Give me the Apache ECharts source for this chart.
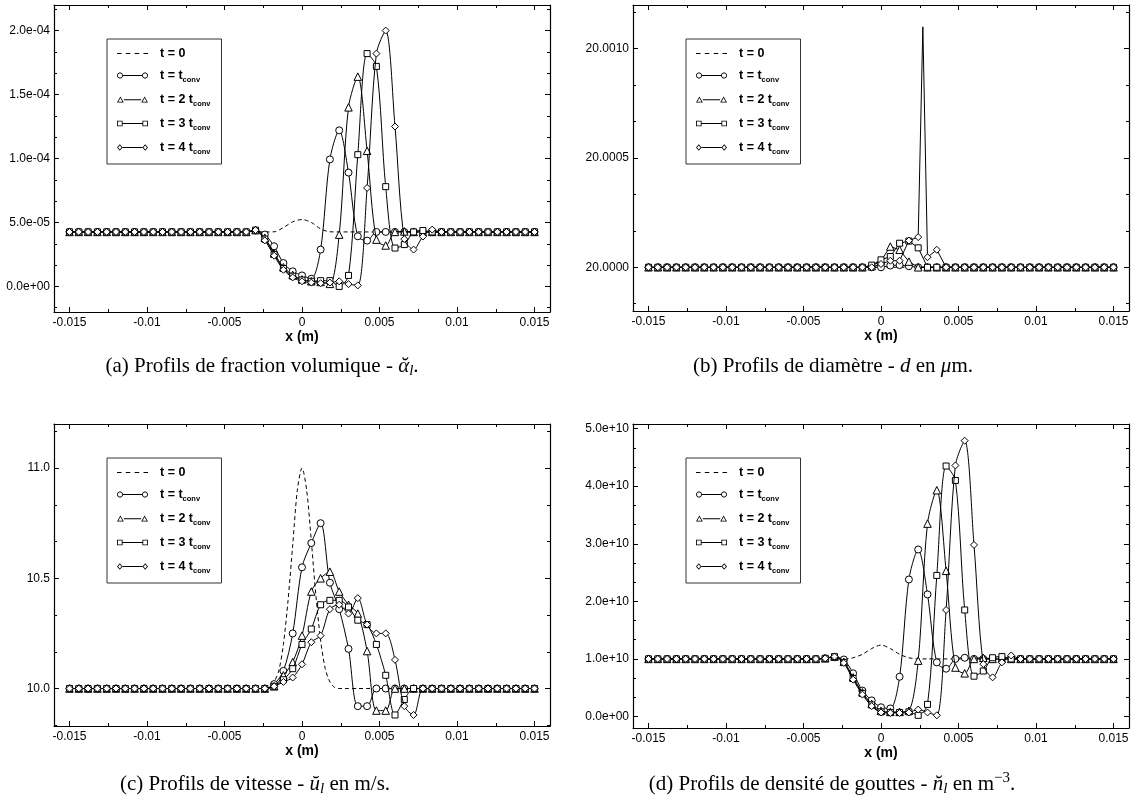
<!DOCTYPE html>
<html><head><meta charset="utf-8">
<script src="https://cdn.jsdelivr.net/npm/echarts@6/dist/echarts.min.js"></script>
<style>html,body{margin:0;padding:0;background:#fff}#c{width:1136px;height:810px}</style>
</head><body><div id="c"></div>
<script>
// ---------- data ----------
const xNodes = [-0.015,-0.0144,-0.0138,-0.0132,-0.0126,-0.012,-0.0114,-0.0108,-0.0102,-0.0096,
  -0.009,-0.0084,-0.0078,-0.0072,-0.0066,-0.006,-0.0054,-0.0048,-0.0042,-0.0036,
  -0.003,-0.0024,-0.0018,-0.0012,-0.0006,0,0.0006,0.0012,0.0018,0.0024,
  0.003,0.0036,0.0042,0.0048,0.0054,0.006,0.0066,0.0072,0.0078,0.0084,
  0.009,0.0096,0.0102,0.0108,0.0114,0.012,0.0126,0.0132,0.0138,0.0144,0.015];

const seriesNames = ['t = 0','t = tconv','t = 2 tconv','t = 3 tconv','t = 4 tconv'];

// (a) volume fraction, units of 1e-5
const unitA = 1e-5;
const alpha0 = [4.26,4.26,4.26,4.26,4.26, 4.26,4.26,4.26,4.26,4.26, 4.26,4.26,4.26,4.26,4.26, 4.26,4.26,4.26,4.26,4.26,
  4.26,4.26,4.27,4.6,5.05, 5.23,5.0,4.5,4.27,4.26, 4.26,4.26,4.26,4.26,4.26, 4.26,4.26,4.26,4.26,4.26,
  4.26,4.26,4.26,4.26,4.26, 4.26,4.26,4.26,4.26,4.26, 4.26];
const alpha1 = [4.26,4.26,4.26,4.26,4.26, 4.26,4.26,4.26,4.26,4.26, 4.26,4.26,4.26,4.26,4.26, 4.26,4.26,4.26,4.26,4.26,
  4.37,4.05,3.14,1.83,1.18, 0.86,0.6,2.88,9.93,12.2, 8.9,3.92,3.58,4.26,4.26, 4.26,4.26,4.26,4.26,4.26,
  4.26,4.26,4.26,4.26,4.26, 4.26,4.26,4.26,4.26,4.26, 4.26];
const alpha2 = [4.26,4.26,4.26,4.26,4.26, 4.26,4.26,4.26,4.26,4.26, 4.26,4.26,4.26,4.26,4.26, 4.26,4.26,4.26,4.26,4.26,
  4.4,3.8,2.6,1.5,0.9, 0.55,0.4,0.35,0.2,4.05, 14.0,16.4,10.6,3.66,3.2, 4.26,4.3,4.26,4.26,4.26,
  4.26,4.26,4.26,4.26,4.26, 4.26,4.26,4.26,4.26,4.26, 4.26];
const alpha3 = [4.26,4.26,4.26,4.26,4.26, 4.26,4.26,4.26,4.26,4.26, 4.26,4.26,4.26,4.26,4.26, 4.26,4.26,4.26,4.26,4.26,
  4.4,3.7,2.5,1.4,0.8, 0.5,0.4,0.45,0.45,0.0, 0.86,10.3,18.2,17.2,7.8, 3.0,3.27,4.26,4.37,4.26,
  4.26,4.26,4.26,4.26,4.26, 4.26,4.26,4.26,4.26,4.26, 4.26];
const alpha4 = [4.26,4.26,4.26,4.26,4.26, 4.26,4.26,4.26,4.26,4.26, 4.26,4.26,4.26,4.26,4.26, 4.26,4.26,4.26,4.26,4.26,
  4.4,3.6,2.4,1.3,0.7, 0.4,0.3,0.25,0.3,0.4, 0.18,0.08,7.7,18.2,20.0, 12.5,3.7,2.88,3.9,4.44,
  4.26,4.26,4.26,4.26,4.26, 4.26,4.26,4.26,4.26,4.26, 4.26];

// (b) diameter, micrometres
const diam0 = [20,20,20,20,20, 20,20,20,20,20, 20,20,20,20,20, 20,20,20,20,20,
  20,20,20,20,20, 20,20,20,20,20, 20,20,20,20,20, 20,20,20,20,20,
  20,20,20,20,20, 20,20,20,20,20, 20];
const diam1 = [20,20,20,20,20, 20,20,20,20,20, 20,20,20,20,20, 20,20,20,20,20,
  20,20,20,20,20, 20,20.000008,20.00001,20.000005,20, 20,20,20,20,20, 20,20,20,20,20,
  20,20,20,20,20, 20,20,20,20,20, 20];
const diam2 = [20,20,20,20,20, 20,20,20,20,20, 20,20,20,20,20, 20,20,20,20,20,
  20,20,20,20,20.000005, 20.00003,20.000095,20.00008,20.000026,20, 20,20,20,20,20, 20,20,20,20,20,
  20,20,20,20,20, 20,20,20,20,20, 20];
const diam3 = [20,20,20,20,20, 20,20,20,20,20, 20,20,20,20,20, 20,20,20,20,20,
  20,20,20,20,20.00001, 20.000034,20.000049,20.00011,20.00012,20.000089, 20,20,20,20,20, 20,20,20,20,20,
  20,20,20,20,20, 20,20,20,20,20, 20];
const diam4 = [20,20,20,20,20, 20,20,20,20,20, 20,20,20,20,20, 20,20,20,20,20,
  20,20,20,20,20, 20.000015,20.00003,20.00003,20.000122,20.000138, 20.000046,20.00008,20,20,20, 20,20,20,20,20,
  20,20,20,20,20, 20,20,20,20,20, 20];
const diam4SpikeX = 0.0027, diam4SpikeV = 20.0011;

// (c) velocity, m/s
const xDashC = [-0.015,-0.0144,-0.0138,-0.0132,-0.0126,-0.012,-0.0114,-0.0108,-0.0102,-0.0096,
  -0.009,-0.0084,-0.0078,-0.0072,-0.0066,-0.006,-0.0054,-0.0048,-0.0042,-0.0036,-0.003,-0.0024,
  -0.0021,-0.0018,-0.0015,-0.0012,-0.0009,-0.0006,-0.0003,0,0.0003,0.0006,0.0009,0.0012,0.0015,0.0018,0.0021,
  0.0024,0.003,0.0036,0.0042,0.0048,0.0054,0.006,0.0066,0.0072,0.0078,0.0084,
  0.009,0.0096,0.0102,0.0108,0.0114,0.012,0.0126,0.0132,0.0138,0.0144,0.015];
const vel0 = [10,10,10,10,10,10,10,10,10,10, 10,10,10,10,10,10,10,10,10,10,10,10,
  10.005,10.03,10.08,10.2,10.4,10.65,10.9,11.0,10.9,10.67,10.42,10.22,10.09,10.03,10.005,
  10,10,10,10,10,10,10,10,10,10,10, 10,10,10,10,10,10,10,10,10,10,10];
const vel1 = [10,10,10,10,10, 10,10,10,10,10, 10,10,10,10,10, 10,10,10,10,10,
  10,10,10.02,10.08,10.25, 10.55,10.66,10.75,10.48,10.36, 10.18,9.92,9.92,10,10, 10,10,10,10,10,
  10,10,10,10,10, 10,10,10,10,10, 10];
const vel2 = [10,10,10,10,10, 10,10,10,10,10, 10,10,10,10,10, 10,10,10,10,10,
  10,10,10.01,10.06,10.12, 10.24,10.44,10.5,10.53,10.44, 10.38,10.34,10.17,9.9,9.9, 10,10,10,10,10,
  10,10,10,10,10, 10,10,10,10,10, 10];
const vel3 = [10,10,10,10,10, 10,10,10,10,10, 10,10,10,10,10, 10,10,10,10,10,
  10,10,10.01,10.04,10.09, 10.2,10.27,10.38,10.4,10.4, 10.37,10.31,10.29,10.2,10.06, 9.88,9.95,10,10,10,
  10,10,10,10,10, 10,10,10,10,10, 10];
const vel4 = [10,10,10,10,10, 10,10,10,10,10, 10,10,10,10,10, 10,10,10,10,10,
  10,10,10.01,10.03,10.05, 10.11,10.21,10.24,10.36,10.38, 10.34,10.41,10.29,10.25,10.25, 10.13,9.92,9.88,10,10,
  10,10,10,10,10, 10,10,10,10,10, 10];

// (d) droplet number density, units of 1e10 m^-3
const unitD = 1e10;
const dens0 = [1,1,1,1,1, 1,1,1,1,1, 1,1,1,1,1, 1,1,1,1,1,
  1,1,1.02,1.08,1.18, 1.24,1.18,1.08,1.02,1, 1,1,1,1,1, 1,1,1,1,1,
  1,1,1,1,1, 1,1,1,1,1, 1];
const dens1 = [1,1,1,1,1, 1,1,1,1,1, 1,1,1,1,1, 1,1,1,1,1.01,
  1.03,0.99,0.75,0.45,0.28, 0.16,0.14,0.69,2.38,2.9, 2.12,0.94,0.83,1.0,1.02, 1,1,1,1,1,
  1,1,1,1,1, 1,1,1,1,1, 1];
const dens2 = [1,1,1,1,1, 1,1,1,1,1, 1,1,1,1,1, 1,1,1,1,1.01,
  1.04,0.95,0.68,0.42,0.22, 0.1,0.08,0.08,0.1,0.97, 3.35,3.93,2.53,0.85,0.75, 1.0,1.02,1,1,1,
  1,1,1,1,1, 1,1,1,1,1, 1];
const dens3 = [1,1,1,1,1, 1,1,1,1,1, 1,1,1,1,1, 1,1,1,1,1.01,
  1.04,0.94,0.66,0.4,0.2, 0.08,0.07,0.07,0.08,0.02, 0.21,2.45,4.35,4.1,1.85, 0.7,0.79,1.02,1.04,1,
  1,1,1,1,1, 1,1,1,1,1, 1];
const dens4 = [1,1,1,1,1, 1,1,1,1,1, 1,1,1,1,1, 1,1,1,1,1.01,
  1.04,0.93,0.64,0.38,0.18, 0.07,0.06,0.06,0.07,0.12, 0.07,0.02,1.85,4.36,4.79, 2.98,0.91,0.68,0.94,1.06,
  1,1,1,1,1, 1,1,1,1,1, 1];

// ticks
const xTicks = [-0.015,-0.01,-0.005,0,0.005,0.01,0.015];
const xLabels = ['-0.015','-0.01','-0.005','0','0.005','0.01','0.015'];
const xMinorTicks = [-0.0125,-0.0075,-0.0025,0.0025,0.0075,0.0125];
const yTicksA = [0,5e-5,1e-4,1.5e-4,2e-4];
const yLabelsA = ['0.0e+00','5.0e-05','1.0e-04','1.5e-04','2.0e-04'];
const yTicksB = [20.0,20.0005,20.001];
const yLabelsB = ['20.0000','20.0005','20.0010'];
const yTicksC = [10.0,10.5,11.0];
const yLabelsC = ['10.0','10.5','11.0'];
const yTicksD = [0,1e10,2e10,3e10,4e10,5e10];
const yLabelsD = ['0.0e+00','1.0e+10','2.0e+10','3.0e+10','4.0e+10','5.0e+10'];

// ---------- build ----------
const FONT = 'Liberation Sans, Arial, sans-serif';
const SERIF = 'Liberation Serif, Times New Roman, serif';

function toPairs(xs, arr, unit) { return xs.map((x, i) => [x, arr[i] * unit]); }
const diam4Data = toPairs(xNodes, diam4, 1);
diam4Data.splice(30, 0, {value: [diam4SpikeX, diam4SpikeV], symbol: 'none'});

const panels = [
  {grid:{left:54, top:5, width:496, height:307}, yMin:-2e-5, yMax:2.2e-4, ticks:yTicksA, labels:yLabelsA, smooth:0.3,
   data:[toPairs(xNodes,alpha0,unitA), toPairs(xNodes,alpha1,unitA), toPairs(xNodes,alpha2,unitA), toPairs(xNodes,alpha3,unitA), toPairs(xNodes,alpha4,unitA)]},
  {grid:{left:633, top:5, width:496, height:306}, yMin:19.9998, yMax:20.0012, ticks:yTicksB, labels:yLabelsB, smooth:false,
   data:[toPairs(xNodes,diam0,1), toPairs(xNodes,diam1,1), toPairs(xNodes,diam2,1), toPairs(xNodes,diam3,1), diam4Data]},
  {grid:{left:54, top:424, width:496, height:302}, yMin:9.83, yMax:11.2, ticks:yTicksC, labels:yLabelsC, smooth:0.3,
   data:[toPairs(xDashC,vel0,1), toPairs(xNodes,vel1,1), toPairs(xNodes,vel2,1), toPairs(xNodes,vel3,1), toPairs(xNodes,vel4,1)]},
  {grid:{left:633, top:424, width:496, height:304}, yMin:-2e9, yMax:5.08e10, ticks:yTicksD, labels:yLabelsD, smooth:0.3,
   data:[toPairs(xNodes,dens0,unitD), toPairs(xNodes,dens1,unitD), toPairs(xNodes,dens2,unitD), toPairs(xNodes,dens3,unitD), toPairs(xNodes,dens4,unitD)]}
];

function minorOf(ticks, lo, hi) {
  const step = (ticks[1] - ticks[0]) / 3, out = [];
  for (let j = -6; j <= ticks.length * 3 + 6; j++) {
    if (j % 3 === 0) continue;
    const v = ticks[0] + j * step;
    if (v > lo && v < hi) out.push(v);
  }
  return out;
}
function lookup(ticks, labels) {
  return function (v) {
    const tol = Math.abs(ticks[1] - ticks[0]) * 1e-3;
    for (let i = 0; i < ticks.length; i++) if (Math.abs(v - ticks[i]) < tol) return labels[i];
    return '';
  };
}

const lineBlack = {color:'#000', width:1.2};
const tickStyle = {color:'#000', width:1};
const xAxis = [], yAxis = [], grid = [], series = [], legend = [];

function polyStr(pts) { return 'M' + pts.map(p => p[0].toFixed(3) + ' ' + p[1].toFixed(3)).join('L') + 'Z'; }
function ring(outer, centre, f) {
  const inner = outer.map(p => [centre[0] + (p[0] - centre[0]) * f, centre[1] + (p[1] - centre[1]) * f]).reverse();
  return polyStr(outer) + polyStr(inner);
}
function shapeAt(kind, cx) {
  const cy = 3.5;
  if (kind === 'circle') {
    const o = []; for (let i = 0; i < 24; i++) { const a = i / 24 * Math.PI * 2; o.push([cx + 3 * Math.cos(a), cy + 3 * Math.sin(a)]); }
    return ring(o, [cx, cy], 0.72);
  }
  if (kind === 'triangle') return ring([[cx, cy - 3.2], [cx + 3.4, cy + 2.7], [cx - 3.4, cy + 2.7]], [cx, cy + 0.7], 0.6);
  if (kind === 'rect') return ring([[cx - 2.8, cy - 2.8], [cx + 2.8, cy - 2.8], [cx + 2.8, cy + 2.8], [cx - 2.8, cy + 2.8]], [cx, cy], 0.7);
  return ring([[cx, cy - 3.3], [cx + 2.8, cy], [cx, cy + 3.3], [cx - 2.8, cy]], [cx, cy], 0.62);
}
function bar(x1, x2) { return polyStr([[x1, 3.1], [x2, 3.1], [x2, 3.9], [x1, 3.9]]); }
const halfW = {circle:3, triangle:3.4, rect:2.8, diamond:2.8};
function iconFor(kind) {
  if (kind === 'dash') return 'path://' + bar(0, 4.5) + bar(8.8, 13.3) + bar(17.7, 22.2) + bar(26.5, 31);
  const h = halfW[kind];
  return 'path://' + shapeAt(kind, h) + shapeAt(kind, 31 - h) + bar(2 * h, 31 - 2 * h);
}
const iconKinds = ['dash','circle','triangle','rect','diamond'];
const symbols = ['none','circle','triangle','rect','diamond'];
const symSizes = [0, 7, 7.5, 6, 7];
const legendText = {
  't = 0': '{m|t = 0}',
  't = tconv': '{m|t = t}{s|conv}',
  't = 2 tconv': '{m|t = 2 t}{s|conv}',
  't = 3 tconv': '{m|t = 3 t}{s|conv}',
  't = 4 tconv': '{m|t = 4 t}{s|conv}'
};

panels.forEach((p, g) => {
  grid.push(Object.assign({containLabel:false, outerBoundsMode:'none'}, p.grid));
  const xb = {gridIndex:g, type:'value', min:-0.016, max:0.016, splitLine:{show:false}, axisPointer:{show:false}};
  xAxis.push(Object.assign({}, xb, {position:'bottom', axisLine:{onZero:false, lineStyle:lineBlack},
    axisTick:{inside:true, length:5, customValues:xTicks, lineStyle:tickStyle},
    axisLabel:{customValues:xTicks, formatter:lookup(xTicks, xLabels), margin:5, fontSize:12, fontFamily:FONT, color:'#000'},
    name:'x (m)', nameLocation:'middle', nameGap:14, nameTextStyle:{fontFamily:FONT, fontSize:14, fontWeight:'bold', color:'#000'}}));
  xAxis.push(Object.assign({}, xb, {position:'bottom', axisLine:{show:false, onZero:false},
    axisTick:{inside:true, length:3, customValues:xMinorTicks, lineStyle:tickStyle}, axisLabel:{show:false}}));
  xAxis.push(Object.assign({}, xb, {position:'top', axisLine:{onZero:false, lineStyle:lineBlack},
    axisTick:{inside:true, length:5, customValues:xTicks, lineStyle:tickStyle}, axisLabel:{show:false}}));
  xAxis.push(Object.assign({}, xb, {position:'top', axisLine:{show:false, onZero:false},
    axisTick:{inside:true, length:3, customValues:xMinorTicks, lineStyle:tickStyle}, axisLabel:{show:false}}));

  const yMinor = minorOf(p.ticks, p.yMin, p.yMax);
  const yb = {gridIndex:g, type:'value', min:p.yMin, max:p.yMax, splitLine:{show:false}, scale:true, axisPointer:{show:false}};
  yAxis.push(Object.assign({}, yb, {position:'left', axisLine:{onZero:false, lineStyle:lineBlack},
    axisTick:{inside:true, length:5, customValues:p.ticks, lineStyle:tickStyle},
    axisLabel:{customValues:p.ticks, formatter:lookup(p.ticks, p.labels), margin:4, fontSize:12, fontFamily:FONT, color:'#000'}}));
  yAxis.push(Object.assign({}, yb, {position:'left', axisLine:{show:false, onZero:false},
    axisTick:{inside:true, length:3, customValues:yMinor, lineStyle:tickStyle}, axisLabel:{show:false}}));
  yAxis.push(Object.assign({}, yb, {position:'right', axisLine:{onZero:false, lineStyle:lineBlack},
    axisTick:{inside:true, length:5, customValues:p.ticks, lineStyle:tickStyle}, axisLabel:{show:false}}));
  yAxis.push(Object.assign({}, yb, {position:'right', axisLine:{show:false, onZero:false},
    axisTick:{inside:true, length:3, customValues:yMinor, lineStyle:tickStyle}, axisLabel:{show:false}}));

  p.data.forEach((d, s) => {
    series.push({
      type:'line', name:seriesNames[s], xAxisIndex:4 * g, yAxisIndex:4 * g, data:d,
      symbol:symbols[s], symbolSize:symSizes[s], showSymbol:s > 0, showAllSymbol:true,
      smooth:p.smooth, silent:true, animation:false, z:2 + s,
      lineStyle:{color:'#000', width:1, type:s === 0 ? [4, 3] : 'solid'},
      itemStyle:{color:'#fff', borderColor:'#000', borderWidth:1}
    });
  });

  legend.push({
    left:p.grid.left + 53, top:p.grid.top + 34, orient:'vertical', selectedMode:false,
    data:seriesNames.map((n, i) => ({name:n, icon:iconFor(iconKinds[i])})),
    itemWidth:31, itemHeight:7, itemGap:7, symbolKeepAspect:true,
    itemStyle:{color:'#000', borderWidth:0},
    padding:[8, 11, 8, 10], borderColor:'#333', borderWidth:1, backgroundColor:'#fff',
    formatter:n => legendText[n],
    textStyle:{color:'#000', rich:{
      m:{fontFamily:FONT, fontWeight:'bold', fontSize:12.5, lineHeight:14, padding:[0, 0, 0, 7], color:'#000'},
      s:{fontFamily:FONT, fontWeight:'bold', fontSize:7.5, lineHeight:14, padding:[9, 0, 0, 0], color:'#000'}
    }}
  });
});

const capRich = {
  n:{fontFamily:SERIF, fontSize:21, lineHeight:28, fill:'#000'},
  i:{fontFamily:SERIF, fontStyle:'italic', fontSize:21, lineHeight:28, fill:'#000'},
  sub:{fontFamily:SERIF, fontStyle:'italic', fontSize:15, lineHeight:28, padding:[11, 0, 0, 0], fill:'#000'},
  sup:{fontFamily:SERIF, fontSize:15, lineHeight:28, padding:[0, 0, 12, 0], fill:'#000'}
};
const captions = [
  {x:262, y:366, text:'{n|(a) Profils de fraction volumique - }{i|ᾰ}{sub|l}{n|.}'},
  {x:833, y:366, text:'{n|(b) Profils de diamètre - }{i|d}{n| en }{i|μ}{n|m.}'},
  {x:255, y:784, text:'{n|(c) Profils de vitesse - }{i|ŭ}{sub|l}{n| en m/s.}'},
  {x:832, y:784, text:'{n|(d) Profils de densité de gouttes - }{i|n̆}{sub|l}{n| en m}{sup|−3}{n|.}'}
];

const chart = echarts.init(document.getElementById('c'), null, {renderer:'canvas'});
chart.setOption({
  animation:false, backgroundColor:'#fff',
  grid, xAxis, yAxis, series, legend,
  graphic: captions.map(c => ({type:'text', x:c.x, y:c.y, silent:true,
    style:{text:c.text, rich:capRich, align:'center', verticalAlign:'middle', fill:'#000'}}))
});
</script></body></html>
